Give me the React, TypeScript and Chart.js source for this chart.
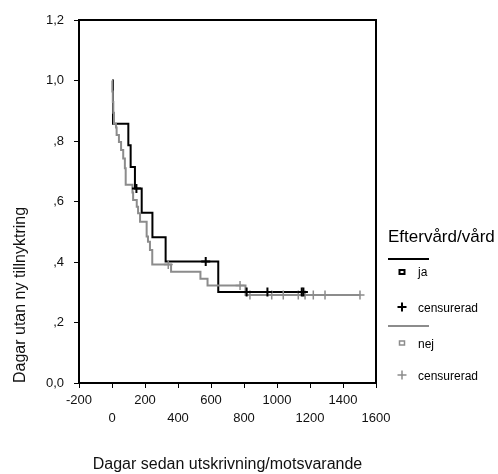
import React, { useEffect, useRef } from 'react';
import { Chart, registerables } from 'chart.js';

Chart.register(...registerables);

// Kaplan-Meier curve "ja" (days, survival after event)
const jaTimes = [0, 6, 99, 113, 139, 180, 245, 325, 644, 1160];
const jaSurvival = [1, 0.857, 0.786, 0.714, 0.643, 0.5625, 0.482, 0.402, 0.301, 0.301];
const jaCensored = [148, 568, 816, 942, 1150, 1160];

// Kaplan-Meier curve "nej"
const nejTimes = [0, 2, 5, 8, 12, 24, 28, 42, 55, 68, 78, 83, 124, 128, 150, 158, 170, 210, 218, 230, 244, 358, 536, 579, 809, 1503];
const nejSurvival = [1, 0.964, 0.929, 0.893, 0.857, 0.845, 0.82, 0.797, 0.77, 0.742, 0.71, 0.655, 0.63, 0.605, 0.583, 0.561, 0.533, 0.484, 0.467, 0.44, 0.392, 0.368, 0.345, 0.322, 0.291, 0.291];
const nejCensored = [341, 776, 836, 968, 1038, 1129, 1170, 1220, 1291, 1503];

const yTickLabels = ['0,0', ',2', ',4', ',6', ',8', '1,0', '1,2'];

const legendTitle = 'Eftervård/vård';
const legendJa = 'ja';
const legendNej = 'nej';
const legendCensored = 'censurerad';

const axisTitleX = 'Dagar sedan utskrivning/motsvarande';
const axisTitleY = 'Dagar utan ny tillnyktring';

const BLACK = '#000000';
const GRAY = '#8c8c8c';
const FONT = "'Liberation Sans', Arial, sans-serif";

function levelAt(times: number[], surv: number[], t: number): number {
  let v = surv[0];
  for (let i = 0; i < times.length; i++) {
    if (times[i] <= t) v = surv[i];
  }
  return v;
}

const legendPlugin = {
  id: 'kmLegend',
  afterDraw(chart: any) {
    const { ctx, chartArea } = chart;
    ctx.save();
    // frame top & right
    ctx.strokeStyle = BLACK;
    ctx.lineWidth = 2;
    ctx.beginPath();
    ctx.moveTo(chartArea.left, chartArea.top);
    ctx.lineTo(chartArea.right, chartArea.top);
    ctx.lineTo(chartArea.right, chartArea.bottom);
    ctx.stroke();

    const x0 = chartArea.right + 12;
    const mx = x0 + 14;
    const tx = x0 + 30;
    ctx.fillStyle = BLACK;
    ctx.textBaseline = 'middle';
    ctx.textAlign = 'left';
    ctx.font = `17px ${FONT}`;
    ctx.fillText(legendTitle, x0, 237);

    // black line
    ctx.strokeStyle = BLACK;
    ctx.lineWidth = 2;
    ctx.beginPath();
    ctx.moveTo(x0, 259);
    ctx.lineTo(x0 + 41, 259);
    ctx.stroke();
    // ja square
    ctx.lineWidth = 2;
    ctx.strokeRect(mx - 2.5, 270, 5, 4);
    // black cross
    ctx.beginPath();
    ctx.moveTo(mx - 4.5, 307);
    ctx.lineTo(mx + 4.5, 307);
    ctx.moveTo(mx, 302.5);
    ctx.lineTo(mx, 311.5);
    ctx.stroke();

    // gray line
    ctx.strokeStyle = GRAY;
    ctx.lineWidth = 2;
    ctx.beginPath();
    ctx.moveTo(x0, 326);
    ctx.lineTo(x0 + 41, 326);
    ctx.stroke();
    ctx.lineWidth = 1.5;
    ctx.strokeRect(mx - 2.5, 341, 5, 4);
    ctx.beginPath();
    ctx.moveTo(mx - 4.5, 375);
    ctx.lineTo(mx + 4.5, 375);
    ctx.moveTo(mx, 370.5);
    ctx.lineTo(mx, 379.5);
    ctx.stroke();

    ctx.fillStyle = BLACK;
    ctx.font = `12px ${FONT}`;
    ctx.fillText(legendJa, tx, 273);
    ctx.fillText(legendCensored, tx, 309);
    ctx.fillText(legendNej, tx, 345);
    ctx.fillText(legendCensored, tx, 377);
    ctx.restore();
  },
};

export default function App() {
  const ref = useRef<HTMLCanvasElement | null>(null);

  useEffect(() => {
    document.body.style.margin = '0';
    const canvas = ref.current;
    if (!canvas) return;

    const jaLine = jaTimes.map((t, i) => ({ x: t, y: jaSurvival[i] }));
    const nejLine = nejTimes.map((t, i) => ({ x: t, y: nejSurvival[i] }));
    const jaCens = jaCensored.map((t) => ({ x: t, y: levelAt(jaTimes, jaSurvival, t) }));
    const nejCens = nejCensored.map((t) => ({ x: t, y: levelAt(nejTimes, nejSurvival, t) }));

    const chart = new Chart(canvas, {
      type: 'line',
      data: {
        datasets: [
          {
            label: 'nej',
            data: nejLine,
            borderColor: GRAY,
            borderWidth: 2,
            stepped: 'before',
            pointRadius: 0,
            fill: false,
            order: 1,
          },
          {
            label: 'nej censurerad',
            data: nejCens,
            showLine: false,
            pointStyle: 'cross',
            pointRadius: 4.5,
            borderColor: GRAY,
            borderWidth: 1.5,
            order: 2,
          },
          {
            label: 'ja',
            data: jaLine,
            borderColor: BLACK,
            borderWidth: 2,
            stepped: 'before',
            pointRadius: 0,
            fill: false,
            order: 3,
          },
          {
            label: 'ja censurerad',
            data: jaCens,
            showLine: false,
            pointStyle: 'cross',
            pointRadius: 4.5,
            borderColor: BLACK,
            borderWidth: 2,
            order: 0,
          },
        ],
      },
      options: {
        animation: false,
        responsive: false,
        devicePixelRatio: 1,
        layout: { padding: { left: 0, right: 122, top: 20, bottom: 0 } },
        plugins: {
          legend: { display: false },
          tooltip: { enabled: false },
        },
        scales: {
          x: {
            type: 'linear',
            min: -200,
            max: 1600,
            ticks: {
              stepSize: 200,
              color: '#111',
              padding: 3,
              maxRotation: 0,
              autoSkip: false,
              font: { family: FONT, size: 13, lineHeight: 18 / 13 },
              callback: (v: any, i: number) => (i % 2 === 0 ? String(v) : ['', String(v)]),
            },
            grid: {
              drawOnChartArea: false,
              drawTicks: true,
              tickLength: 5,
              tickWidth: 1,
              tickColor: BLACK,
            },
            border: { display: true, color: BLACK, width: 2 },
            title: {
              display: true,
              text: axisTitleX,
              color: '#111',
              font: { family: FONT, size: 16 },
              padding: { top: 0, bottom: 0 },
            },
            afterFit: (s: any) => {
              s.height = 91;
            },
          },
          y: {
            type: 'linear',
            min: 0,
            max: 1.2,
            ticks: {
              stepSize: 0.2,
              color: '#111',
              padding: 10,
              font: { family: FONT, size: 13 },
              callback: (_v: any, i: number) => yTickLabels[i] ?? '',
            },
            grid: {
              drawOnChartArea: false,
              drawTicks: true,
              tickLength: 5,
              tickWidth: 1,
              tickColor: BLACK,
            },
            border: { display: true, color: BLACK, width: 2 },
            title: {
              display: true,
              text: axisTitleY,
              color: '#111',
              align: 'start',
              font: { family: FONT, size: 16 },
              padding: { top: 11, bottom: 0 },
            },
            afterFit: (s: any) => {
              s.width = 79;
            },
          },
        },
      } as any,
      plugins: [legendPlugin],
    });

    return () => chart.destroy();
  }, []);

  return (
    <canvas
      ref={ref}
      width={498}
      height={474}
      style={{ display: 'block', width: 498, height: 474 }}
    />
  );
}
